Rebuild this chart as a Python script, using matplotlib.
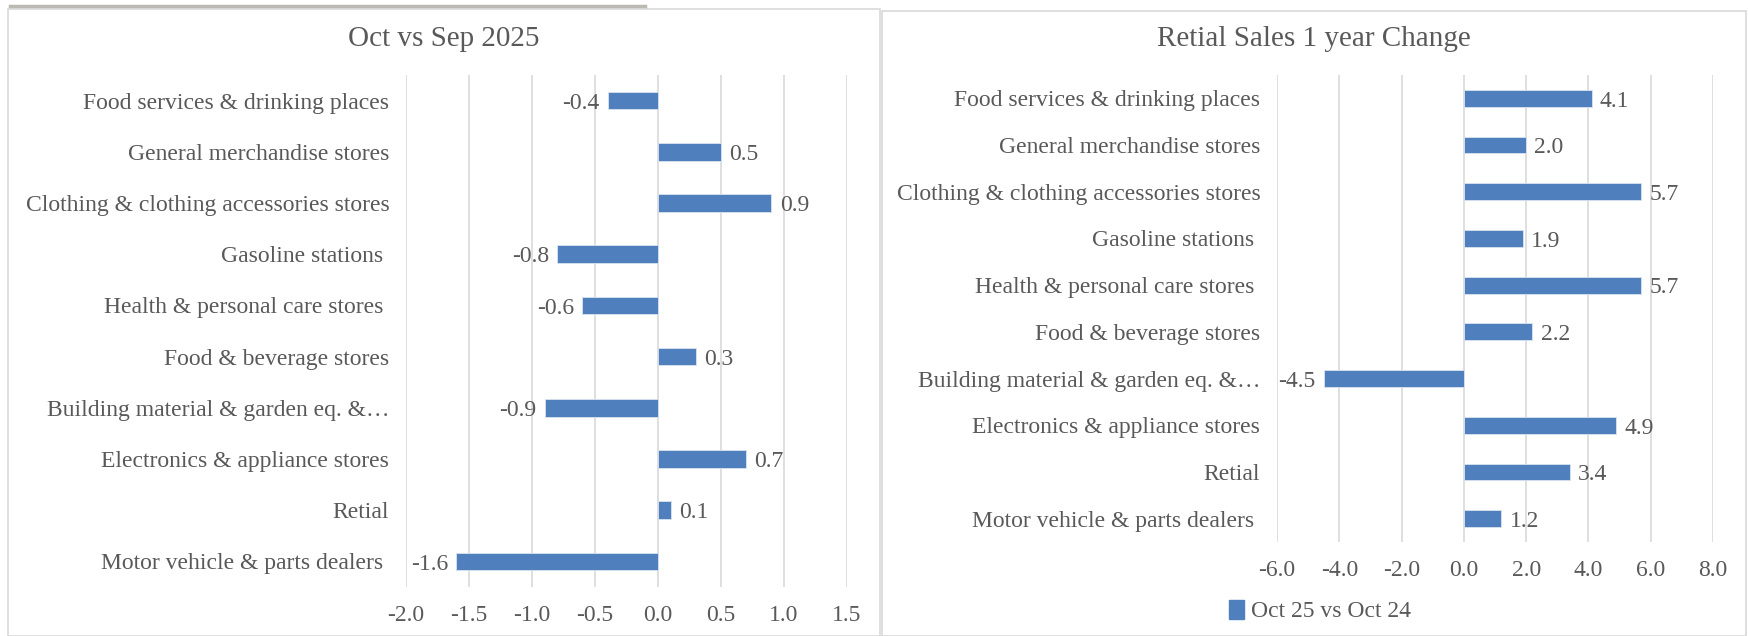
import matplotlib
matplotlib.use("Agg")
import matplotlib.pyplot as plt
from matplotlib.patches import Rectangle
from matplotlib.lines import Line2D

plt.rcParams['font.family'] = ['Liberation Serif', 'DejaVu Serif']

categories = ["Food services & drinking places",
              "General merchandise stores",
              "Clothing & clothing accessories stores",
              "Gasoline stations ",
              "Health & personal care stores ",
              "Food & beverage stores",
              "Building material & garden eq. &\u2026",
              "Electronics & appliance stores",
              "Retial",
              "Motor vehicle & parts dealers "]
month_change = [-0.4, 0.5, 0.9, -0.8, -0.6, 0.3, -0.9, 0.7, 0.1, -1.6]
year_change = [4.1, 2.0, 5.7, 1.9, 5.7, 2.2, -4.5, 4.9, 3.4, 1.2]

left_ticks = [-2.0, -1.5, -1.0, -0.5, 0.0, 0.5, 1.0, 1.5]
right_ticks = [-6.0, -4.0, -2.0, 0.0, 2.0, 4.0, 6.0, 8.0]

left_title = "Oct vs Sep 2025"
right_title = "Retial Sales 1 year Change"
legend_label = "Oct 25 vs Oct 24"

BLUE = "#4f7fbd"
TXT = "#595959"
GRID = "#d9d9d9"
W, H = 1748, 636
FS = 17

fig = plt.figure(figsize=(W / 100, H / 100), dpi=100)


def px(x0, y0, x1, y1):
    # pixel box (top-left origin) -> figure fraction rect
    return [x0 / W, (H - y1) / H, (x1 - x0) / W, (y1 - y0) / H]


# panel frames and the grey strip on top
fig.patches.append(Rectangle((8 / W, 0), (880 - 8) / W, (H - 9) / H,
                             transform=fig.transFigure, fill=False,
                             edgecolor="#d9d9d9", lw=1.2))
fig.patches.append(Rectangle((882 / W, 0), (1746 - 882) / W, (H - 11) / H,
                             transform=fig.transFigure, fill=False,
                             edgecolor="#d9d9d9", lw=1.2))
fig.lines.append(Line2D([10 / W, 645 / W], [(H - 6) / H, (H - 6) / H],
                        transform=fig.transFigure, color="#bcb8b3", lw=2.5))


def draw(ax, values, ticks, bar_h, ypad):
    y = list(range(len(categories)))
    ax.barh(y, values, height=bar_h, color=BLUE,
            edgecolor="#dbe4f0", linewidth=0.6, zorder=3)
    ax.set_xlim(ticks[0], ticks[-1])
    ax.set_ylim(len(categories) - 0.5, -0.5)
    ax.set_xticks(ticks)
    ax.set_xticklabels(["%.1f" % t for t in ticks])
    ax.set_yticks(y)
    ax.set_yticklabels(categories)
    ax.grid(axis="x", color=GRID, lw=1.2, zorder=0)
    ax.tick_params(axis="x", length=0, pad=13, labelsize=FS, labelcolor=TXT)
    ax.tick_params(axis="y", length=0, pad=ypad, labelsize=FS, labelcolor=TXT)
    for s in ax.spines.values():
        s.set_visible(False)
    for yi, v in zip(y, values):
        off = 6 if v >= 0 else -6
        ax.annotate("%.1f" % v, (v, yi), xytext=(off, -2),
                    textcoords="offset points", va="center",
                    ha="left" if v >= 0 else "right",
                    fontsize=FS, color=TXT, zorder=4)


ax1 = fig.add_axes(px(406, 75, 847, 587))
draw(ax1, month_change, left_ticks, 0.34, 12)

ax2 = fig.add_axes(px(1277, 75, 1713, 542))
draw(ax2, year_change, right_ticks, 0.36, 12)

fig.text(444 / W, (H - 39) / H, left_title, ha="center", va="center",
         fontsize=21, color=TXT)
fig.text(1314 / W, (H - 39) / H, right_title, ha="center", va="center",
         fontsize=21, color=TXT)

handle = Rectangle((0, 0), 1, 1, color=BLUE)
fig.legend([handle], [legend_label], loc="center",
           bbox_to_anchor=(1320 / W, (H - 611) / H), frameon=False,
           handlelength=0.6, handleheight=0.9, handletextpad=0.3,
           prop={"size": FS}, labelcolor=TXT)

fig.savefig("out.png", dpi=100)
